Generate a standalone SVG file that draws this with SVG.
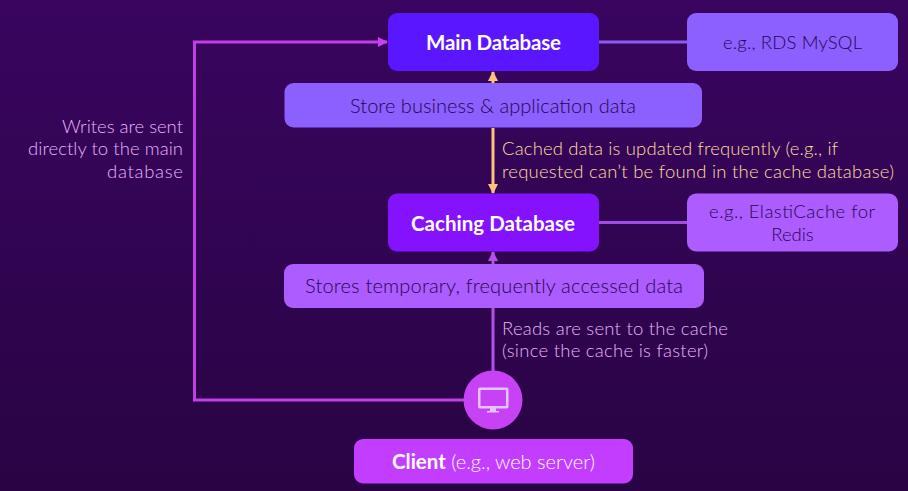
<svg xmlns="http://www.w3.org/2000/svg" width="908" height="491" viewBox="0 0 908 491">
<style>
text{font-family:"Lato","Liberation Sans",sans-serif;font-size:18.500px;font-weight:300}
.m{text-anchor:middle}
.l{font-size:20px}
.b{font-weight:700;fill:#fff;font-size:20.500px}
.d{fill:#26064f}
.w{fill:#fff}
.p{fill:#e6b4fa}
.y{fill:#ffdf9f}
.line{fill:none;stroke-width:3}
</style>
<defs>
<linearGradient id="bg" x1="0" y1="0" x2="0" y2="1"><stop offset="0" stop-color="#39055f"/><stop offset="1" stop-color="#290444"/></linearGradient>
<marker id="ay" markerWidth="10" markerHeight="10" refX="9" refY="5" orient="auto" markerUnits="userSpaceOnUse"><path d="M0 0L10 5L0 10Z" fill="#fcc27a"/></marker>
<marker id="ap" markerWidth="10" markerHeight="10" refX="9" refY="5" orient="auto" markerUnits="userSpaceOnUse"><path d="M0 0L10 5L0 10Z" fill="#b44fe8"/></marker>
<marker id="am" markerWidth="10" markerHeight="10" refX="9" refY="5" orient="auto" markerUnits="userSpaceOnUse"><path d="M0 0L10 5L0 10Z" fill="#c742ee"/></marker>
</defs>
<rect width="908" height="491" fill="url(#bg)"/>
<g id="connectors">
<path class="line" stroke="#c23fe6" d="M464 400H194.500V42H387" marker-end="url(#am)"/>
<path class="line" stroke="#8a5cf0" d="M599 42H687"/>
<path class="line" stroke="#a14ce8" d="M599 222.500H687"/>
<path class="line" stroke="#fcc27a" d="M493 84V72" marker-end="url(#ay)"/>
<path class="line" stroke="#fcc27a" d="M493 128V193" marker-end="url(#ay)"/>
<path class="line" stroke="#b44fe8" d="M493 264V252" marker-end="url(#ap)"/>
<path class="line" stroke="#b44fe8" d="M493 308V371"/>
</g>
<g id="main-db"><rect x="388" y="13" width="211" height="58" rx="9" fill="#5a16ff"/><text class="m b" x="493.500" y="49.500" textLength="135">Main Database</text></g>
<g id="main-eg"><rect x="687" y="13" width="211" height="58" rx="9" fill="#8c5fff"/><text class="m d" x="792.500" y="49" textLength="139">e.g., RDS MySQL</text></g>
<g id="main-desc"><rect x="284.500" y="83" width="417.500" height="44.500" rx="9" fill="#8c5fff"/><text class="m d l" x="493" y="113" textLength="286">Store business &amp; application data</text></g>
<g id="cache-db"><rect x="388" y="193.500" width="211" height="58" rx="9" fill="#8412ff"/><text class="m b" x="493" y="231" textLength="164">Caching Database</text></g>
<g id="cache-eg"><rect x="687" y="193.500" width="211" height="58" rx="9" fill="#ad5cff"/><text class="m d" x="792" y="218" textLength="166">e.g., ElastiCache for</text><text class="m d" x="792.500" y="241">Redis</text></g>
<g id="cache-desc"><rect x="284" y="264" width="420" height="44" rx="9" fill="#ad5cff"/><text class="m d l" x="494" y="293" textLength="378">Stores temporary, frequently accessed data</text></g>
<g id="client-icon"><circle cx="493" cy="400" r="29.500" fill="#c742f5"/>
<rect x="478.500" y="388" width="29.500" height="20" rx="1" fill="#e3c4fb" stroke="#e3c4fb"/><rect x="480.500" y="390" width="25.500" height="16" fill="#c742f5"/><path d="M490 408h6v3h3v1.500h-12V411h3z" fill="#e3c4fb"/></g>
<g id="client"><rect x="354" y="439" width="279" height="44.500" rx="9" fill="#c23dff"/><text class="m w l" x="493.500" y="468.500" textLength="203"><tspan class="b" font-size="20">Client</tspan> (e.g., web server)</text></g>
<g id="labels">
<text class="p" text-anchor="end" x="183" y="133" textLength="121">Writes are sent</text>
<text class="p" text-anchor="end" x="183" y="155" textLength="155">directly to the main</text>
<text class="p" text-anchor="end" x="183" y="178" textLength="76">database</text>
<text class="y" x="502" y="155" textLength="336">Cached data is updated frequently (e.g., if</text>
<text class="y" x="502" y="178" textLength="392">requested can’t be found in the cache database)</text>
<text class="p" x="502" y="335" textLength="226">Reads are sent to the cache</text>
<text class="p" x="502" y="357" textLength="206">(since the cache is faster)</text>
</g>
</svg>
